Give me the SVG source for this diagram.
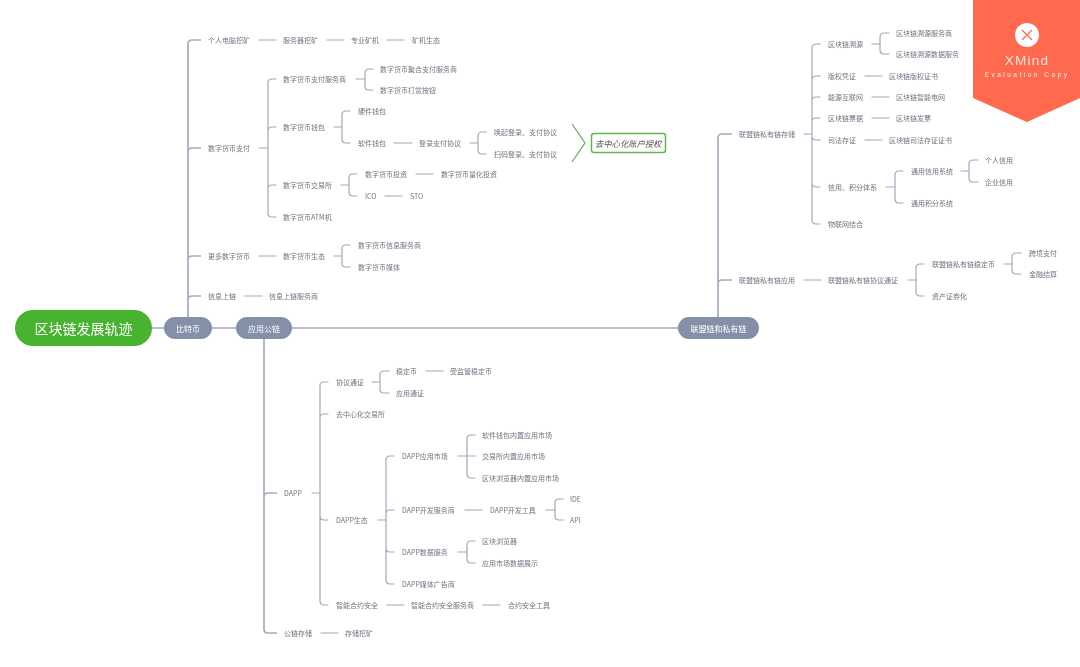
<svg xmlns="http://www.w3.org/2000/svg" width="1080" height="667" viewBox="0 0 1080 667">
<defs><filter id="soft" x="-2%" y="-2%" width="104%" height="104%"><feGaussianBlur stdDeviation="0.35"/></filter></defs>
<style>
text{font-family:"Noto Sans CJK SC","Liberation Sans",sans-serif;font-size:7px;fill:#6f7580;dominant-baseline:central}
.pill{fill:#8390a8}
.pt{fill:#fff;font-size:8px;text-anchor:middle}
.c{fill:none;stroke:#a0a8b8;stroke-width:1.2;stroke-linecap:round}
.t{fill:none;stroke:#a4acbb;stroke-width:1.7}
#connectors,#btc-nodes,#con-nodes,#pub-nodes,#summary,#root,#n-btc,#n-pub,#n-con,#badge{filter:url(#soft)}
</style>
<rect width="1080" height="667" fill="#fff"/>
<g id="connectors">
<path class="t" d="M152 328H678M201 40H192Q188 40 188 44V317M188 152Q188 148 192 148H201M188 260Q188 256 192 256H201M188 300Q188 296 192 296H201"/>
<path class="t" d="M732 134H722Q718 134 718 138V317M718 284Q718 280 722 280H732M264 339V629Q264 633 268 633H277M264 497Q264 493 268 493H277"/>
<path class="c" d="M259 40H276M327 40H344M387 40H404M259 148H268M276 79H272Q268 79 268 83V213Q268 217 272 217H276M268 131Q268 127 272 127H276M268 189Q268 185 272 185H276"/>
<path class="c" d="M356 79H365M373 69H369Q365 69 365 73V86Q365 90 369 90H373M334 127H342M350 111H346Q342 111 342 115V139Q342 143 346 143H350M394 143H412M470 143H478M486 132H482Q478 132 478 136V150Q478 154 482 154H486"/>
<path class="c" d="M341 185H349M357 174H353Q349 174 349 178V192Q349 196 353 196H357M416 174H433M385 196H402M259 256H276M334 256H342M350 245H346Q342 245 342 249V263Q342 267 346 267H350M245 296H262"/>
<path class="c" d="M804 134H812M820 44H816Q812 44 812 48V220Q812 224 816 224H820M812 80Q812 76 816 76H820M812 101Q812 97 816 97H820M812 122Q812 118 816 118H820M812 136Q812 140 816 140H820M812 183Q812 187 816 187H820"/>
<path class="c" d="M872 44H880M889 33H884Q880 33 880 37V50Q880 54 884 54H889M865 76H882M872 97H889M872 118H889M865 140H882M886 187H895M903 171H899Q895 171 895 175V199Q895 203 899 203H903M961 171H969M978 160H973Q969 160 969 164V178Q969 182 973 182H978"/>
<path class="c" d="M804 280H821M908 280H916M924 264H920Q916 264 916 268V292Q916 296 920 296H924M1004 264H1012M1021 253H1016Q1012 253 1012 257V270Q1012 274 1016 274H1021"/>
<path class="c" d="M312 493H320M328 382H324Q320 382 320 386V601Q320 605 324 605H328M320 418Q320 414 324 414H328M320 516Q320 520 324 520H328M372 382H380M389 371H384Q380 371 380 375V389Q380 393 384 393H389M426 371H443"/>
<path class="c" d="M378 520H386M394 456H390Q386 456 386 460V580Q386 584 390 584H394M386 514Q386 510 390 510H394M386 548Q386 552 390 552H394M458 456H475M475 435H471Q467 435 467 439V474Q467 478 471 478H475"/>
<path class="c" d="M465 510H482M546 510H555M563 499H559Q555 499 555 503V516Q555 520 559 520H563M458 552H467M475 541H471Q467 541 467 545V559Q467 563 471 563H475M387 605H404M483 605H500M321 633H338"/>
</g>
<g id="root"><rect x="15" y="310" width="137" height="36" rx="18" fill="#47b32e"/><text x="83.500" y="328" style="fill:#fff;font-size:14px;text-anchor:middle">区块链发展轨迹</text></g>
<g id="n-btc"><rect class="pill" x="164" y="317" width="48" height="22" rx="11"/><text class="pt" x="188" y="328">比特币</text></g>
<g id="n-pub"><rect class="pill" x="236" y="317" width="56" height="22" rx="11"/><text class="pt" x="264" y="328">应用公链</text></g>
<g id="n-con"><rect class="pill" x="678" y="317" width="81" height="22" rx="11"/><text class="pt" x="718.500" y="328">联盟链和私有链</text></g>
<g id="btc-nodes">
<g id="a1"><text x="208" y="40">个人电脑挖矿</text></g>
<g id="a2"><text x="283" y="40">服务器挖矿</text></g>
<g id="a3"><text x="351" y="40">专业矿机</text></g>
<g id="a4"><text x="412" y="40">矿机生态</text></g>
<g id="a5"><text x="208" y="148">数字货币支付</text></g>
<g id="a6"><text x="283" y="79">数字货币支付服务商</text></g>
<g id="a7"><text x="380" y="69">数字货币聚合支付服务商</text></g>
<g id="a8"><text x="380" y="90">数字货币打赏按钮</text></g>
<g id="a9"><text x="283" y="127">数字货币钱包</text></g>
<g id="a10"><text x="358" y="111">硬件钱包</text></g>
<g id="a11"><text x="358" y="143">软件钱包</text></g>
<g id="a12"><text x="419" y="143">登录支付协议</text></g>
<g id="a13"><text x="494" y="132">唤起登录、支付协议</text></g>
<g id="a14"><text x="494" y="154">扫码登录、支付协议</text></g>
<g id="a15"><text x="283" y="185">数字货币交易所</text></g>
<g id="a16"><text x="365" y="174">数字货币投资</text></g>
<g id="a17"><text x="441" y="174">数字货币量化投资</text></g>
<g id="a18"><text x="365" y="196">ICO</text></g>
<g id="a19"><text x="410" y="196">STO</text></g>
<g id="a20"><text x="283" y="217">数字货币ATM机</text></g>
<g id="a21"><text x="208" y="256">更多数字货币</text></g>
<g id="a22"><text x="283" y="256">数字货币生态</text></g>
<g id="a23"><text x="358" y="245">数字货币信息服务商</text></g>
<g id="a24"><text x="358" y="267">数字货币媒体</text></g>
<g id="a25"><text x="208" y="296">信息上链</text></g>
<g id="a26"><text x="269" y="296">信息上链服务商</text></g>
</g>
<g id="summary"><path d="M572 124L585 143L572 162" fill="none" stroke="#5cb04a" stroke-width="1.2"/><rect x="591.500" y="133.500" width="74" height="19" rx="2.500" fill="#fff" stroke="#63b650" stroke-width="1.500"/><text x="595" y="143" style="font-size:8.300px;font-style:italic;fill:#555">去中心化账户授权</text></g>
<g id="con-nodes">
<g id="b1"><text x="739" y="134">联盟链私有链存储</text></g>
<g id="b2"><text x="828" y="44">区块链溯源</text></g>
<g id="b3"><text x="896" y="33">区块链溯源服务商</text></g>
<g id="b4"><text x="896" y="54">区块链溯源数据服务</text></g>
<g id="b5"><text x="828" y="76">版权凭证</text></g>
<g id="b6"><text x="889" y="76">区块链版权证书</text></g>
<g id="b7"><text x="828" y="97">能源互联网</text></g>
<g id="b8"><text x="896" y="97">区块链智能电网</text></g>
<g id="b9"><text x="828" y="118">区块链票据</text></g>
<g id="b10"><text x="896" y="118">区块链发票</text></g>
<g id="b11"><text x="828" y="140">司法存证</text></g>
<g id="b12"><text x="889" y="140">区块链司法存证证书</text></g>
<g id="b13"><text x="828" y="187">信用、积分体系</text></g>
<g id="b14"><text x="911" y="171">通用信用系统</text></g>
<g id="b15"><text x="985" y="160">个人信用</text></g>
<g id="b16"><text x="985" y="182">企业信用</text></g>
<g id="b17"><text x="911" y="203">通用积分系统</text></g>
<g id="b18"><text x="828" y="224">物联网结合</text></g>
<g id="b19"><text x="739" y="280">联盟链私有链应用</text></g>
<g id="b20"><text x="828" y="280">联盟链私有链协议通证</text></g>
<g id="b21"><text x="932" y="264">联盟链私有链稳定币</text></g>
<g id="b22"><text x="1029" y="253">跨境支付</text></g>
<g id="b23"><text x="1029" y="274">金融结算</text></g>
<g id="b24"><text x="932" y="296">资产证券化</text></g>
</g>
<g id="pub-nodes">
<g id="c1"><text x="284" y="493">DAPP</text></g>
<g id="c2"><text x="336" y="382">协议通证</text></g>
<g id="c3"><text x="396" y="371">稳定币</text></g>
<g id="c4"><text x="450" y="371">受监管稳定币</text></g>
<g id="c5"><text x="396" y="393">应用通证</text></g>
<g id="c6"><text x="336" y="414">去中心化交易所</text></g>
<g id="c7"><text x="336" y="520">DAPP生态</text></g>
<g id="c8"><text x="402" y="456">DAPP应用市场</text></g>
<g id="c9"><text x="482" y="435">软件钱包内置应用市场</text></g>
<g id="c10"><text x="482" y="456">交易所内置应用市场</text></g>
<g id="c11"><text x="482" y="478">区块浏览器内置应用市场</text></g>
<g id="c12"><text x="402" y="510">DAPP开发服务商</text></g>
<g id="c13"><text x="490" y="510">DAPP开发工具</text></g>
<g id="c14"><text x="570" y="499">IDE</text></g>
<g id="c15"><text x="570" y="520">API</text></g>
<g id="c16"><text x="402" y="552">DAPP数据服务</text></g>
<g id="c17"><text x="482" y="541">区块浏览器</text></g>
<g id="c18"><text x="482" y="563">应用市场数据展示</text></g>
<g id="c19"><text x="402" y="584">DAPP媒体广告商</text></g>
<g id="c20"><text x="336" y="605">智能合约安全</text></g>
<g id="c21"><text x="411" y="605">智能合约安全服务商</text></g>
<g id="c22"><text x="508" y="605">合约安全工具</text></g>
<g id="c23"><text x="284" y="633">公链存储</text></g>
<g id="c24"><text x="345" y="633">存储挖矿</text></g>
</g>
<g id="badge"><polygon points="973,0 1080,0 1080,98 1027,122 973,98" fill="#ff6a50"/><circle cx="1027" cy="35" r="12" fill="#fff"/><path d="M1022 30L1032 40M1032 30L1022 40" stroke="#ff6a50" stroke-width="1.200" fill="none"/><text x="1027" y="60.500" style="fill:#fff;font-family:'Liberation Sans',sans-serif;font-size:13.500px;letter-spacing:1.200px;text-anchor:middle;fill-opacity:.8">XMind</text><text x="1027" y="74" style="fill:#fff;font-family:'Liberation Sans',sans-serif;font-size:6.500px;letter-spacing:2.500px;text-anchor:middle;fill-opacity:.9">Evaluation Copy</text></g>
</svg>
